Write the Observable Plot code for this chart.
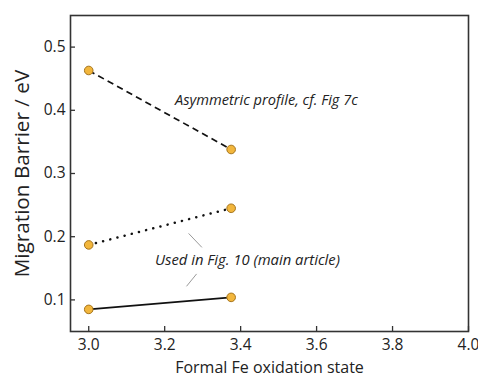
<!DOCTYPE html>
<html>
<head>
<meta charset="utf-8">
<script src="https://cdn.jsdelivr.net/npm/d3@7"></script>
<script src="https://cdn.jsdelivr.net/npm/@observablehq/plot@0.6"></script>
<style>
  html, body { margin: 0; padding: 0; background: #fff; }
  #chart svg { display: block; }
</style>
</head>
<body>
<div id="chart"></div>
<script>
// Migration barriers vs formal Fe oxidation state
const oxidation = [3.0, 3.375];
const asymmetric = [0.463, 0.338];   // dashed
const usedA = [0.187, 0.245];        // dotted
const usedB = [0.085, 0.104];        // solid
const xTicks = [3.0, 3.2, 3.4, 3.6, 3.8, 4.0];
const yTicks = [0.1, 0.2, 0.3, 0.4, 0.5];

const labelAsym = "Asymmetric profile, cf. Fig 7c";
const labelUsed = "Used in Fig. 10 (main article)";
const labelAsymAt = [3.468, 0.4163];
const labelUsedAt = [3.418, 0.162];
// leader lines from the "Used in" label toward the two lower series
const leaders = [
  {x1: 3.263, y1: 0.2052, x2: 3.298, y2: 0.1831},
  {x1: 3.284, y1: 0.1411, x2: 3.2575, y2: 0.1215}
];

const series = [
  {name: "asym", values: asymmetric, dash: "6.5,4.3", cap: "butt", width: 1.7},
  {name: "usedA", values: usedA, dash: "0.1,7.3", cap: "round", width: 2.5},
  {name: "usedB", values: usedB, dash: null, cap: "butt", width: 1.7}
];
const points = series.flatMap(s => s.values.map((v, i) => ({x: oxidation[i], y: v, name: s.name})));

const W = 478, H = 378;
const mL = 70, mR = 10, mT = 15, mB = 47;
const innerW = W - mL - mR, innerH = H - mT - mB;
const font = "'Open Sans', sans-serif";

const lineMarks = series.map(s => Plot.line(s.values.map((v, i) => ({x: oxidation[i], y: v})), {
  x: "x", y: "y", stroke: "#111", strokeWidth: s.width,
  strokeDasharray: s.dash, strokeLinecap: s.cap
}));

const chart = Plot.plot({
  width: W, height: H,
  marginLeft: mL, marginRight: mR, marginTop: mT, marginBottom: mB,
  style: {fontFamily: font, background: "#fff", color: "#222"},
  x: {domain: [2.952, 4.0]},
  y: {domain: [0.05, 0.55]},
  marks: [
    // inward ticks
    Plot.tickX(xTicks, {x: d => d, stroke: "#333", strokeWidth: 1.3, insetTop: innerH - 5}),
    Plot.tickY(yTicks, {y: d => d, stroke: "#333", strokeWidth: 1.3, insetRight: innerW - 5}),
    Plot.axisX(xTicks, {tickSize: 0, tickPadding: 7, fontSize: 15.5, tickFormat: d3.format(".1f"), label: null, fill: "#222"}),
    Plot.axisY(yTicks, {tickSize: 0, tickPadding: 5, fontSize: 15.5, tickFormat: d3.format(".1f"), label: null, fill: "#222"}),
    Plot.frame({stroke: "#333", strokeWidth: 1.6}),
    Plot.link(leaders, {x1: "x1", y1: "y1", x2: "x2", y2: "y2", stroke: "#9a9a9a", strokeWidth: 1}),
    ...lineMarks,
    Plot.dot(points, {x: "x", y: "y", r: 4.3, fill: "#f2b63c", stroke: "#a5741c", strokeWidth: 1}),
    Plot.text([labelAsym], {x: labelAsymAt[0], y: labelAsymAt[1], text: d => d, fontSize: 14.6, fontStyle: "italic", fill: "#222"}),
    Plot.text([labelUsed], {x: labelUsedAt[0], y: labelUsedAt[1], text: d => d, fontSize: 14.8, fontStyle: "italic", fill: "#222"}),
    // axis titles
    Plot.text(["Formal Fe oxidation state"], {frameAnchor: "bottom", text: d => d, dy: 41, fontSize: 16, fill: "#222"}),
    Plot.text(["Migration Barrier / eV"], {frameAnchor: "left", textAnchor: "middle", text: d => d, rotate: -90, dx: -48, fontSize: 20.7, fill: "#222"})
  ]
});
document.getElementById("chart").appendChild(chart);
</script>
</body>
</html>
